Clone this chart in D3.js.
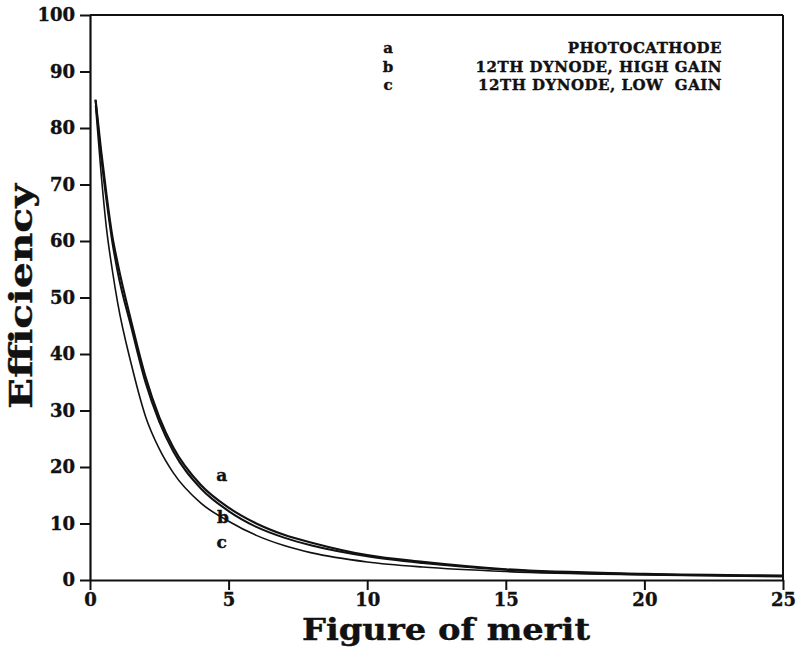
<!DOCTYPE html>
<html>
<head>
<meta charset="utf-8">
<script src="https://cdn.jsdelivr.net/npm/d3@7"></script>
<style>
  body { margin: 0; background: #fff; }
  text { font-family: "DejaVu Serif", serif; font-weight: bold; fill: #111; stroke: #111; stroke-width: 0.4px; }
</style>
</head>
<body>
<div id="chart"></div>
<script>
// Figure of merit values (x) and efficiency readings for each curve
var fom = [0.2, 0.4, 0.6, 0.8, 1, 1.5, 2, 2.5, 3, 4, 5, 6, 7, 8, 10, 12, 15, 20, 25];
var photocathode = [85, 76, 68, 61, 56, 45.5, 36, 28.8, 23.5, 16.8, 12.8, 10, 8, 6.6, 4.4, 3.2, 1.9, 1.1, 0.8];
var highGain     = [85, 75, 67, 60, 54.5, 44.5, 35, 28, 22.8, 16.2, 12.2, 9.4, 7.5, 6.1, 4.2, 3.0, 1.8, 1.0, 0.7];
var lowGain      = [84, 72, 62, 55, 49, 38, 29, 23.2, 19, 13.6, 10.4, 7.9, 6.1, 4.8, 3.2, 2.3, 1.5, 0.9, 0.6];

var xTicks = [0, 5, 10, 15, 20, 25];
var yTicks = [0, 10, 20, 30, 40, 50, 60, 70, 80, 90, 100];

var legendKeys = ["a", "b", "c"];
var legendNames = ["PHOTOCATHODE", "12TH DYNODE, HIGH GAIN", "12TH DYNODE, LOW\u00a0\u00a0GAIN"];

var series = [
    { key: "a", values: photocathode, width: 2.2 },
    { key: "b", values: highGain, width: 2.0 },
    { key: "c", values: lowGain, width: 1.6 }
];

var margin = { top: 15, right: 19, bottom: 68, left: 90 },
    width = 802 - margin.left - margin.right,
    height = 648 - margin.top - margin.bottom;

var svg = d3.select("#chart")
    .append("svg")
    .attr("width", 802)
    .attr("height", 648)
    .append("g")
    .attr("transform", `translate(${margin.left},${margin.top})`);

var x = d3.scaleLinear().domain([0, 25]).range([0, width]);
var y = d3.scaleLinear().domain([0, 100]).range([height, 0]);

// X axis
var xAxis = svg.append("g")
    .attr("transform", `translate(0,${height})`)
    .call(d3.axisBottom(x).tickValues(xTicks).tickSize(10).tickPadding(2).tickSizeOuter(0));
xAxis.selectAll("text").style("font-size", "18px").attr("dy", "0.8em");

// Y axis
var yAxis = svg.append("g")
    .call(d3.axisLeft(y).tickValues(yTicks).tickSize(10).tickPadding(5).tickSizeOuter(0));
yAxis.selectAll("text").style("font-size", "18px");

svg.selectAll(".domain").attr("stroke", "#111").attr("stroke-width", 2.2);
svg.selectAll(".tick line").attr("stroke", "#111").attr("stroke-width", 2);

// Top and right frame
svg.append("line").attr("x1", 0).attr("x2", width).attr("y1", 0).attr("y2", 0)
    .attr("stroke", "#111").attr("stroke-width", 2.2);
svg.append("line").attr("x1", width).attr("x2", width).attr("y1", 0).attr("y2", height)
    .attr("stroke", "#111").attr("stroke-width", 2);

// Curves
var line = d3.line()
    .x((d, i) => x(fom[i]))
    .y(d => y(d))
    .curve(d3.curveMonotoneX);

svg.selectAll(".curve")
    .data(series)
    .enter()
    .append("path")
    .attr("class", "curve")
    .attr("fill", "none")
    .attr("stroke", "#111")
    .attr("stroke-width", d => d.width)
    .attr("d", d => line(d.values));

// Curve labels
var curveLabels = [
    { key: "a", fx: 4.75, ey: 18.6 },
    { key: "b", fx: 4.8, ey: 11.2 },
    { key: "c", fx: 4.75, ey: 6.8 }
];
svg.selectAll(".clabel")
    .data(curveLabels)
    .enter()
    .append("text")
    .attr("x", d => x(d.fx))
    .attr("y", d => y(d.ey))
    .attr("text-anchor", "middle")
    .attr("dy", "0.35em")
    .style("font-size", "17px")
    .text(d => d.key);

// Legend
var legend = svg.append("g");
legend.selectAll(".lkey")
    .data(legendKeys)
    .enter()
    .append("text")
    .attr("x", 298)
    .attr("y", (d, i) => 38 + i * 18.5)
    .attr("text-anchor", "middle")
    .style("font-size", "15px")
    .text(d => d);

legend.selectAll(".lname")
    .data(legendNames)
    .enter()
    .append("text")
    .attr("x", 632)
    .attr("y", (d, i) => 38 + i * 18.5)
    .attr("text-anchor", "end")
    .style("font-size", "15px")
    .style("letter-spacing", "0.5px")
    .text(d => d);

// Axis titles
svg.append("text")
    .attr("x", 212)
    .attr("y", height + 60)
    .attr("textLength", 288)
    .attr("lengthAdjust", "spacingAndGlyphs")
    .style("font-size", "30px")
    .text("Figure of merit");

svg.append("text")
    .attr("transform", `translate(${-58},${282}) rotate(-90)`)
    .attr("x", -112)
    .attr("textLength", 225)
    .attr("lengthAdjust", "spacingAndGlyphs")
    .style("font-size", "32px")
    .text("Efficiency");
</script>
</body>
</html>
